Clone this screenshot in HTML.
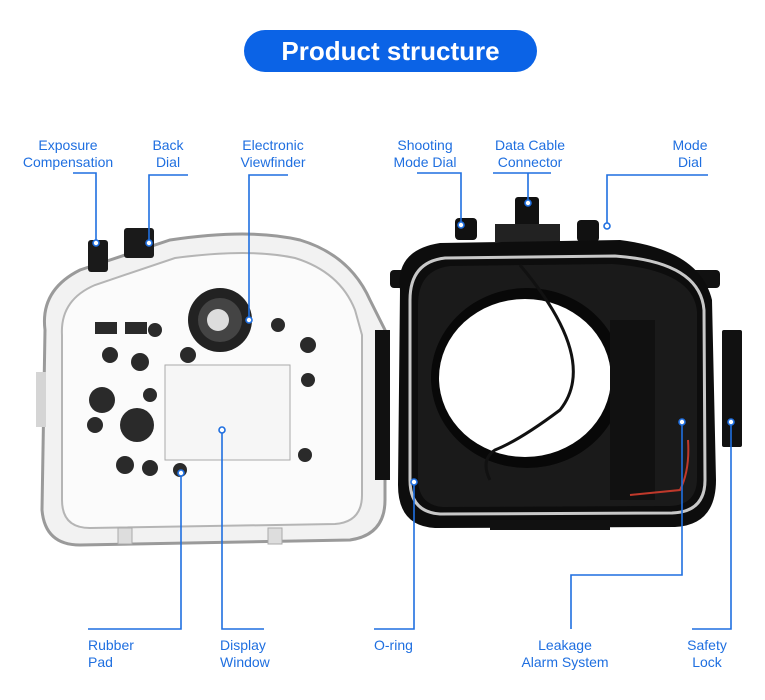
<!DOCTYPE html>
<html><head><meta charset="utf-8"><style>
html,body{margin:0;padding:0;background:#fff;}
body{width:765px;height:700px;position:relative;overflow:hidden;font-family:"Liberation Sans",Arial,sans-serif;}
.pill{position:absolute;left:244px;top:30px;width:293px;height:42px;border-radius:21px;background:#0b63e6;color:#fff;font-weight:bold;font-size:26px;line-height:42px;text-align:center;}
.lb{position:absolute;color:#1f6fe0;font-size:14px;line-height:17px;text-align:center;white-space:nowrap;}
svg{position:absolute;left:0;top:0;}
</style></head><body>
<svg width="765" height="700" viewBox="0 0 765 700">
<defs>
<linearGradient id="g1" x1="0" y1="0" x2="1" y2="1"><stop offset="0" stop-color="#e8e8e8"/><stop offset="1" stop-color="#bfbfbf"/></linearGradient>
</defs>
<!-- left housing -->
<path d="M45 330 Q40 290 80 270 L170 240 Q250 228 300 240 Q350 255 370 300 L385 330 L385 500 Q385 535 350 540 L80 545 Q45 545 42 510 Z" fill="#f2f2f2" stroke="#9a9a9a" stroke-width="3"/>
<path d="M62 335 Q60 300 95 285 L175 258 Q250 248 295 258 Q340 272 355 310 L362 335 L362 495 Q362 522 335 524 L90 528 Q62 528 62 500 Z" fill="#fbfbfb" stroke="#b5b5b5" stroke-width="2"/>
<rect x="36" y="372" width="10" height="55" fill="#d5d5d5"/>
<rect x="118" y="528" width="14" height="16" fill="#ddd" stroke="#aaa"/><rect x="268" y="528" width="14" height="16" fill="#ddd" stroke="#aaa"/>
<rect x="88" y="240" width="20" height="32" rx="3" fill="#1a1a1a"/>
<rect x="124" y="228" width="30" height="30" rx="3" fill="#1a1a1a"/>
<circle cx="220" cy="320" r="32" fill="#222"/><circle cx="220" cy="320" r="22" fill="#444"/><circle cx="218" cy="320" r="11" fill="#ddd"/>
<rect x="165" y="365" width="125" height="95" fill="#f6f6f6" stroke="#aaa"/>
<g fill="#2a2a2a">
<rect x="95" y="322" width="22" height="12"/><rect x="125" y="322" width="22" height="12"/>
<circle cx="110" cy="355" r="8"/><circle cx="140" cy="362" r="9"/><circle cx="155" cy="330" r="7"/>
<circle cx="102" cy="400" r="13"/><circle cx="137" cy="425" r="17"/><circle cx="95" cy="425" r="8"/>
<circle cx="150" cy="395" r="7"/><circle cx="125" cy="465" r="9"/><circle cx="150" cy="468" r="8"/>
<circle cx="180" cy="470" r="7"/><circle cx="278" cy="325" r="7"/><circle cx="308" cy="345" r="8"/>
<circle cx="308" cy="380" r="7"/><circle cx="305" cy="455" r="7"/><circle cx="188" cy="355" r="8"/>
</g>
<!-- right housing -->
<rect x="455" y="218" width="22" height="22" rx="4" fill="#111"/>
<rect x="515" y="197" width="24" height="32" rx="3" fill="#111"/>
<rect x="577" y="220" width="22" height="22" rx="4" fill="#111"/>
<rect x="495" y="224" width="65" height="18" fill="#222"/>
<rect x="390" y="270" width="330" height="18" rx="4" fill="#111"/>
<rect x="375" y="330" width="15" height="150" fill="#111"/>
<path d="M400 290 Q395 250 440 243 L620 240 Q700 250 712 300 L716 480 Q716 525 675 527 L435 528 Q398 526 398 485 Z" fill="#0d0d0d"/>
<path d="M410 300 Q410 262 445 258 L615 256 Q700 262 704 310 L705 480 Q705 512 672 513 L440 514 Q410 512 410 480 Z" fill="none" stroke="#c8c8c8" stroke-width="3"/>
<path d="M418 305 Q418 270 450 266 L612 264 Q694 270 697 312 L697 478 Q697 505 670 506 L443 507 Q418 505 418 478 Z" fill="#1a1a1a"/>
<ellipse cx="527" cy="378" rx="96" ry="90" fill="#080808"/>
<ellipse cx="525" cy="378" rx="86" ry="79" fill="#fff"/>
<path d="M520 265 Q600 360 560 410 Q520 440 495 450 Q480 460 490 480" fill="none" stroke="#111" stroke-width="3"/>
<rect x="610" y="320" width="45" height="180" fill="#111"/>
<rect x="490" y="520" width="120" height="10" fill="#111"/>
<rect x="722" y="330" width="20" height="117" rx="2" fill="#111"/>
<path d="M630 495 L680 490 Q690 470 688 440" fill="none" stroke="#c0392b" stroke-width="2"/>
<!-- connectors -->
<g stroke="#1f6fe0" stroke-width="1.6" fill="none">
<path d="M73 173H96V243"/><path d="M188 175H149V243"/><path d="M288 175H249V320"/>
<path d="M417 173H461V225"/><path d="M493 173H551M528 173V203"/><path d="M708 175H607V226"/>
<path d="M88 629H181V473"/><path d="M264 629H222V430"/><path d="M374 629H414V482"/>
<path d="M571 629V575H682V422"/><path d="M692 629H731V422"/>
</g>
<g fill="#fff" stroke="#1f6fe0" stroke-width="1.6">
<circle cx="96" cy="243" r="3"/><circle cx="149" cy="243" r="3"/><circle cx="249" cy="320" r="3"/>
<circle cx="461" cy="225" r="3"/><circle cx="528" cy="203" r="3"/><circle cx="607" cy="226" r="3"/>
<circle cx="181" cy="473" r="3"/><circle cx="222" cy="430" r="3"/><circle cx="414" cy="482" r="3"/>
<circle cx="682" cy="422" r="3"/><circle cx="731" cy="422" r="3"/>
</g>
</svg>
<div class="pill">Product structure</div>
<div class="lb" style="left:18px;top:137px;width:100px">Exposure<br>Compensation</div>
<div class="lb" style="left:143px;top:137px;width:50px">Back<br>Dial</div>
<div class="lb" style="left:228px;top:137px;width:90px">Electronic<br>Viewfinder</div>
<div class="lb" style="left:385px;top:137px;width:80px">Shooting<br>Mode Dial</div>
<div class="lb" style="left:485px;top:137px;width:90px">Data Cable<br>Connector</div>
<div class="lb" style="left:665px;top:137px;width:50px">Mode<br>Dial</div>
<div class="lb" style="left:88px;top:637px;text-align:left">Rubber<br>Pad</div>
<div class="lb" style="left:220px;top:637px;text-align:left">Display<br>Window</div>
<div class="lb" style="left:374px;top:637px;text-align:left">O-ring</div>
<div class="lb" style="left:510px;top:637px;width:110px">Leakage<br>Alarm System</div>
<div class="lb" style="left:682px;top:637px;width:50px">Safety<br>Lock</div>
</body></html>
